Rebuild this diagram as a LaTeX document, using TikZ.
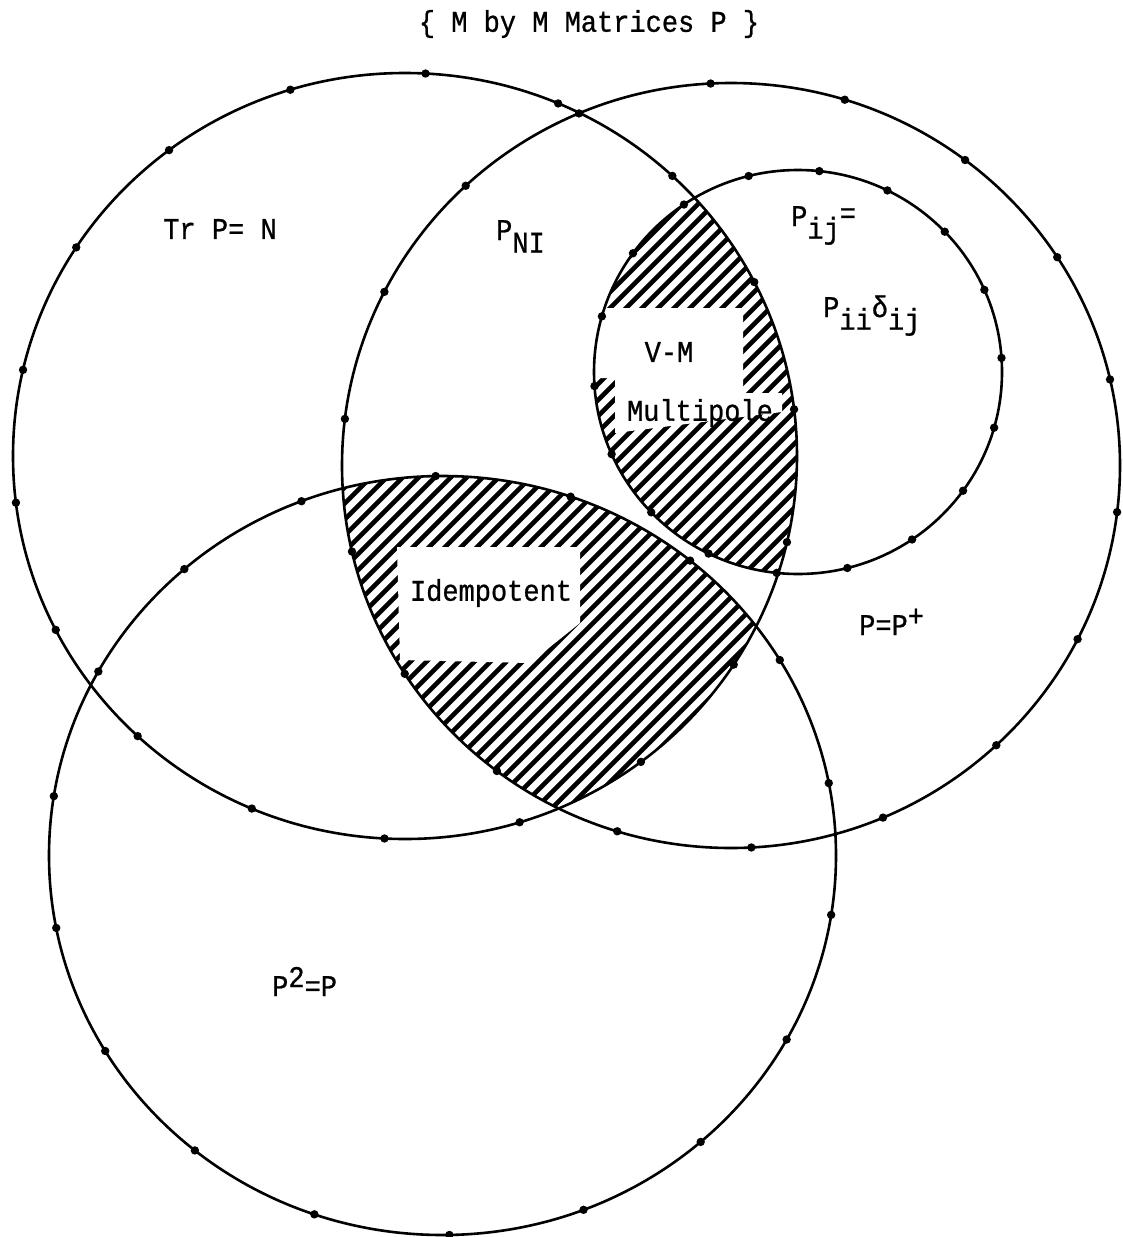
\documentclass[tikz,border=0pt]{standalone}
\usepackage{fontspec}
\usetikzlibrary{calc}
\newfontfamily\schreibmaschine[FakeStretch=0.9,FakeBold=0.8]{Liberation Mono}
\newcommand{\lbl}{\fontsize{30}{32}\selectfont}
\newcommand{\tief}[1]{\raisebox{-0.42em}{#1}}
\newcommand{\hoch}[1]{\raisebox{0.3em}{#1}}
\tikzset{kreislinie/.style={black,line width=2.6pt},
  schraffur/.style={black,line width=4.6pt,line cap=round},
  beschriftung/.style={inner sep=0,text=black,font=\schreibmaschine\lbl},
  freifeld/.style={fill=white,draw=none}}
% Punkte auf einem Kreis: Mitte, Versatz, Radien
\newcommand{\punkte}[3]{\foreach \w in {0,20,...,340}{\fill (#1) ++(\w+#2:#3) circle (4.2pt);}}

\begin{document}
\begin{tikzpicture}[x=1pt,y=-1pt]
\useasboundingbox (0,0) rectangle (1122,1237);
\coordinate (mL) at (405,456);
\coordinate (mR) at (731,465.5);
\coordinate (mS) at (798,372);
\coordinate (mB) at (442.5,855.5);
% Schraffur V-M Multipole
\begin{scope}
\clip (mL) ellipse [x radius=392pt,y radius=383pt];
\clip (mS) ellipse [x radius=204pt,y radius=202pt];
\foreach \c in {870,886,...,1380} \draw[schraffur] (\c,0) -- (\c-1237,1237);
\fill[freifeld] (585,308) -- (743,308) -- (743,393) -- (782,393) -- (782,412)
  -- (615,433) -- (615,378) -- (585,378) -- cycle;
\end{scope}
% Schraffur Idempotent
\begin{scope}
\clip (mL) ellipse [x radius=392pt,y radius=383pt];
\clip (mR) ellipse [x radius=389pt,y radius=382.5pt];
\clip (mB) ellipse [x radius=393.5pt,y radius=379.5pt];
\foreach \c in {800,816,...,1430} \draw[schraffur] (\c,0) -- (\c-1237,1237);
\fill[freifeld] (397,547) -- (580,547) -- (580,623) -- (530,663) -- (400,660) -- cycle;
\end{scope}
% Kreise
\draw[kreislinie] (mL) ellipse [x radius=392pt,y radius=383pt];
\draw[kreislinie] (mR) ellipse [x radius=389pt,y radius=382.5pt];
\draw[kreislinie] (mS) ellipse [x radius=204pt,y radius=202pt];
\draw[kreislinie] (mB) ellipse [x radius=393.5pt,y radius=379.5pt];
\punkte{mL}{7}{392pt and 383pt}
\punkte{mR}{13}{389pt and 382.5pt}
\punkte{mS}{4}{204pt and 202pt}
\punkte{mB}{11}{393.5pt and 379.5pt}
% Beschriftungen
\node[beschriftung] (titel) at (589,24) {\{ M by M Matrices P \}};
\node[beschriftung] (spur) at (220,229) {Tr P= N};
\node[beschriftung,anchor=base west] (pni) at (496,240) {P\tief{NI}};
\node[beschriftung,anchor=base west] (pij) at (791,226) {P\tief{ij}\raisebox{0.1em}{=}};
\node[beschriftung,anchor=base west] (pii) at (823,317) {P\tief{ii}δ\tief{ij}};
\node[beschriftung] (vm) at (669,352) {V-M};
\node[beschriftung] (multi) at (700,413) {Multipole};
\node[beschriftung] (idem) at (491,593) {Idempotent};
\node[beschriftung,anchor=base west] (herm) at (859,635) {P=P\hoch{+}};
\node[beschriftung,anchor=base west] (quad) at (272,996) {P\hoch{2}=P};
\end{tikzpicture}
\end{document}
